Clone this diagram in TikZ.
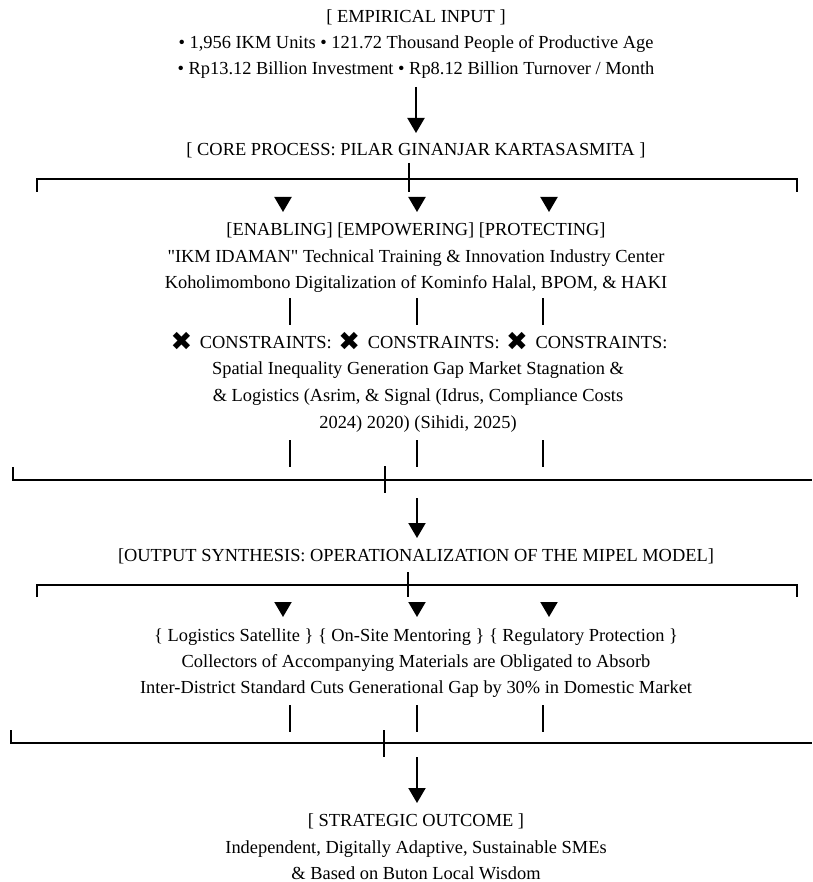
\documentclass[tikz,border=0pt]{standalone}
\usepackage{fontspec}
\setmainfont{Liberation Serif}
\newfontfamily\symfont{DejaVu Sans}
\usetikzlibrary{arrows.meta}
\newcommand{\xmark}{\hspace{2pt}\raisebox{-2pt}{\smash{\symfont\fontsize{26}{19}\selectfont ✖}}\hspace{3pt}}

\begin{document}
\begin{tikzpicture}[x=1pt, y=-1pt, line width=2pt,
    every node/.style={inner sep=0pt, align=center, font=\fontsize{18.4}{26.4}\selectfont},
    head/.style={-{Triangle[width=17pt, length=15pt]}},
    bar/.style={line width=1.8pt}]
  \useasboundingbox (0,0) rectangle (812,882);

  % Empirical input
  \node (input) at (416,44) {[ EMPIRICAL INPUT ]\\
    • 1,956 IKM Units • 121.72 Thousand People of Productive Age\\
    • Rp13.12 Billion Investment • Rp8.12 Billion Turnover / Month};
  \coordinate (in1) at (416,87);
  \coordinate (in2) at (416,133);
  \draw[head] (in1) -- (in2);

  % Core process
  \node (core) at (416,150) {[ CORE PROCESS: PILAR GINANJAR KARTASASMITA ]};
  \coordinate (cs1) at (409,163);
  \coordinate (cs2) at (409,192);
  \coordinate (cl) at (37,192);
  \coordinate (cr) at (797,192);
  \draw (cs1) -- (cs2);
  \draw (cl) -- (cl |- 0,179) -- (cr |- 0,179) -- (cr);
  \foreach \x in {283,417,549}
    \draw[head] (\x,197) -- (\x,212);

  % Pilar
  \node (pilar) at (416,258) {[ENABLING] [EMPOWERING] [PROTECTING]\\
    \textquotedbl IKM IDAMAN\textquotedbl{} Technical Training \& Innovation Industry Center\\
    Koholimombono Digitalization of Kominfo Halal, BPOM, \& HAKI};
  \foreach \x in {290,417,543}
    \draw[bar] (\x,298) -- (\x,325);

  % Constraints
  \node (limit) at (418,384) {\xmark\ CONSTRAINTS: \xmark\ CONSTRAINTS: \xmark\ CONSTRAINTS:\\[0.3pt]
    Spatial Inequality Generation Gap Market Stagnation \&\\[0.3pt]
    \& Logistics (Asrim, \& Signal (Idrus, Compliance Costs\\[0.3pt]
    2024) 2020) (Sihidi, 2025)};
  \foreach \x in {290,417,543}
    \draw[bar] (\x,440) -- (\x,467);
  \coordinate (ls1) at (385,466);
  \coordinate (ls2) at (385,493);
  \coordinate (ll) at (13,467);
  \coordinate (lr) at (812,480);
  \draw (ls1) -- (ls2);
  \draw (ll) -- (ll |- lr) -- (lr);
  \coordinate (ls3) at (417,498);
  \coordinate (ls4) at (417,538);
  \draw[head] (ls3) -- (ls4);

  % Output synthesis
  \node (synth) at (416,556) {[OUTPUT SYNTHESIS: OPERATIONALIZATION OF THE MIPEL MODEL]};
  \coordinate (ss1) at (408,572);
  \coordinate (ss2) at (408,597);
  \coordinate (sl) at (37,597);
  \coordinate (sr) at (797,597);
  \draw (ss1) -- (ss2);
  \draw (sl) -- (sl |- 0,585) -- (sr |- 0,585) -- (sr);
  \foreach \x in {283,417,549}
    \draw[head] (\x,602) -- (\x,617);

  % MIPEL model
  \node (mipel) at (416,663) {\{ Logistics Satellite \} \{ On-Site Mentoring \} \{ Regulatory Protection \}\\
    Collectors of Accompanying Materials are Obligated to Absorb\\
    Inter-District Standard Cuts Generational Gap by 30\% in Domestic Market};
  \foreach \x in {290,417,543}
    \draw[bar] (\x,705) -- (\x,732);
  \coordinate (ms1) at (384,730);
  \coordinate (ms2) at (384,757);
  \coordinate (ml) at (11,730);
  \coordinate (mr) at (812,743);
  \draw (ms1) -- (ms2);
  \draw (ml) -- (ml |- mr) -- (mr);
  \coordinate (ms3) at (417,757);
  \coordinate (ms4) at (417,803);
  \draw[head] (ms3) -- (ms4);

  % Strategic outcome
  \node (outcome) at (416,847) {[ STRATEGIC OUTCOME ]\\
    Independent, Digitally Adaptive, Sustainable SMEs\\
    \& Based on Buton Local Wisdom};
\end{tikzpicture}
\end{document}
